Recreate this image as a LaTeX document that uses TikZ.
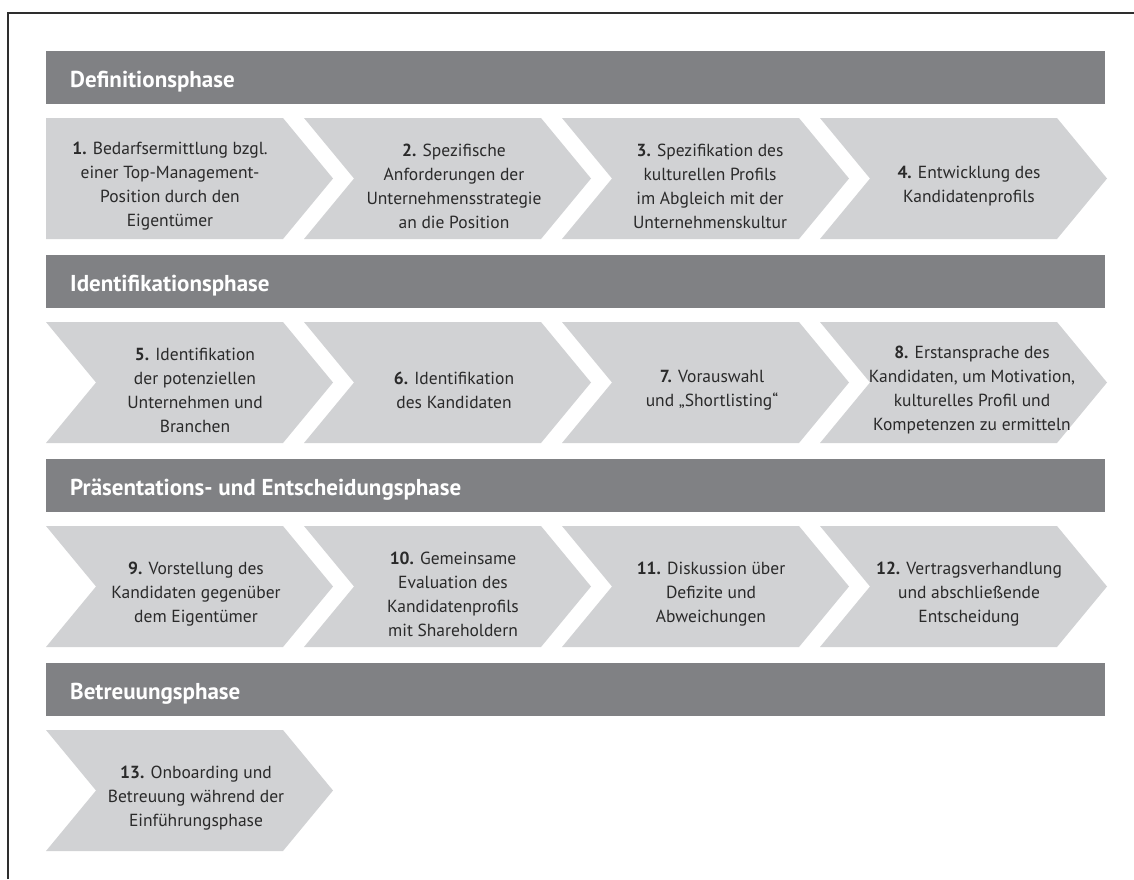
\documentclass[tikz,border=0pt]{standalone}
\usepackage{fontspec}
\setmainfont{PT Sans}
\definecolor{barcol}{HTML}{808184}
\definecolor{chevcol}{HTML}{D1D2D4}
\definecolor{txtcol}{HTML}{2A2A2A}
\definecolor{framecol}{HTML}{2E2E2E}
\tikzset{
  steptext/.style={align=center, text=txtcol, inner sep=0pt, font={\fontsize{17.5}{24}\selectfont}},
  phasetext/.style={anchor=base west, text=white, inner sep=0pt, font={\fontsize{23}{26}\selectfont\bfseries}},
}
\newcommand\chevflat[2]{\fill[chevcol] (#1,#2) -- ++(237,0) -- ++(50,60.5) -- ++(-50,60.5) -- ++(-237,0) -- cycle;}
\newcommand\chevnotch[2]{\fill[chevcol] (#1,#2) -- ++(237,0) -- ++(50,60.5) -- ++(-50,60.5) -- ++(-237,0) -- ++(50,-60.5) -- cycle;}
\newcommand\phasebar[1]{\fill[barcol] (46,#1) rectangle (1105,#1+53);}
\begin{document}
\begin{tikzpicture}[x=1pt,y=-1pt]
\useasboundingbox (0,0) rectangle (1134,879);
\fill[white] (0,0) rectangle (1134,879);
\draw[line width=2pt, framecol] (8,879) -- (8,12.5) -- (1134,12.5);

% bars
\phasebar{51}
\phasebar{255}
\phasebar{459}
\phasebar{663}
\node[phasetext] (p1) at (70,87.5) {Definitionsphase};
\node[phasetext] (p2) at (70,291.5) {Identifikationsphase};
\node[phasetext] (p3) at (70,495.5) {Präsentations- und Entscheidungsphase};
\node[phasetext] (p4) at (70,699.5) {Betreuungsphase};

% row 1
\chevflat{46}{118}
\chevnotch{304}{118}
\chevnotch{562}{118}
\chevnotch{820}{118}
\node[steptext] (s1) at (170,186) {\textbf{1.} Bedarfsermittlung bzgl.\\einer Top-Management-\\Position durch den\\Eigentümer};
\node[steptext] (s2) at (454,186) {\textbf{2.} Spezifische\\Anforderungen der\\Unternehmensstrategie\\an die Position};
\node[steptext] (s3) at (710,186) {\textbf{3.} Spezifikation des\\kulturellen Profils\\im Abgleich mit der\\Unternehmenskultur};
\node[steptext] (s4) at (969,186) {\textbf{4.} Entwicklung des\\Kandidatenprofils};

% row 2
\chevnotch{46}{322}
\chevnotch{304}{322}
\chevnotch{562}{322}
\chevnotch{820}{322}
\node[steptext] (s5) at (195,390) {\textbf{5.} Identifikation\\der potenziellen\\Unternehmen und\\Branchen};
\node[steptext] (s6) at (454,390) {\textbf{6.} Identifikation\\des Kandidaten};
\node[steptext] (s7) at (712,390) {\textbf{7.} Vorauswahl\\und „Shortlisting“};
\node[steptext] (s8) at (972,390) {\textbf{8.} Erstansprache des\\Kandidaten, um Motivation,\\kulturelles Profil und\\Kompetenzen zu ermitteln};

% row 3
\chevnotch{46}{526}
\chevnotch{304}{526}
\chevnotch{562}{526}
\chevnotch{820}{526}
\node[steptext] (s9) at (196,594) {\textbf{9.} Vorstellung des\\Kandidaten gegenüber\\dem Eigentümer};
\node[steptext] (s10) at (453,594) {\textbf{10.} Gemeinsame\\Evaluation des\\Kandidatenprofils\\mit Shareholdern};
\node[steptext] (s11) at (711,594) {\textbf{11.} Diskussion über\\Defizite und\\Abweichungen};
\node[steptext] (s12) at (969,594) {\textbf{12.} Vertragsverhandlung\\und abschließende\\Entscheidung};

% row 4
\chevnotch{46}{730}
\node[steptext] (s13) at (196,798) {\textbf{13.} Onboarding und\\Betreuung während der\\Einführungsphase};
\end{tikzpicture}
\end{document}
